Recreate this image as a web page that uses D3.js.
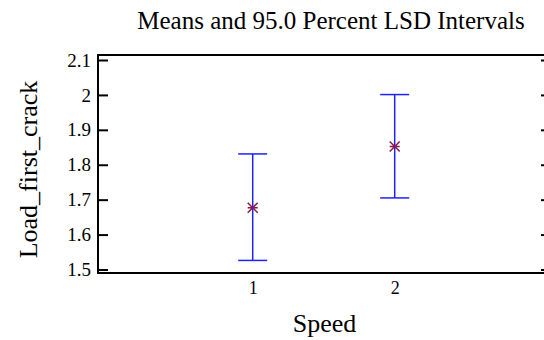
<!DOCTYPE html>
<html><head><meta charset="utf-8">
<script src="https://cdn.jsdelivr.net/npm/d3@7"></script>
<style>body{margin:0;background:#fff}svg{display:block}text{font-family:"Liberation Serif","Times New Roman",serif}</style>
</head><body><svg id="c" width="544" height="340"></svg>
<script>
const categories = ["1", "2"];
const means = [1.677, 1.852];
const lower = [1.526, 1.705];
const upper = [1.831, 2.001];
const yTicks = [1.5, 1.6, 1.7, 1.8, 1.9, 2.0, 2.1];
const yTickLabels = ["1.5", "1.6", "1.7", "1.8", "1.9", "2", "2.1"];

const svg = d3.select("#c");
const L = 98, R = 551, T = 55, B = 273;
const xs = d3.scaleLinear().domain([1, 2]).range([252.7, 394.7]);
const y = d3.scaleLinear().domain([1.5, 2.1]).range([269.5, 60]);

svg.append("text").attr("x", 331).attr("y", 29).attr("text-anchor", "middle")
  .attr("font-size", 25).text("Means and 95.0 Percent LSD Intervals");

svg.append("rect").attr("x", L).attr("y", T).attr("width", R - L).attr("height", B - T)
  .attr("fill", "none").attr("stroke", "#000").attr("stroke-width", 2);

const yAxisL = d3.axisLeft(y).tickValues(yTicks).tickSize(-10).tickPadding(7)
  .tickFormat((d, i) => yTickLabels[i]);
const gy = svg.append("g").attr("transform", `translate(${L},0)`).call(yAxisL);
gy.select(".domain").remove();
gy.selectAll(".tick line").attr("stroke-width", 2);
gy.selectAll("text").attr("font-size", 19).attr("font-family", "Liberation Serif").attr("fill", "#000");

const yAxisR = d3.axisRight(y).tickValues(yTicks).tickSize(-10).tickFormat("");
const gyr = svg.append("g").attr("transform", `translate(${R},0)`).call(yAxisR);
gyr.select(".domain").remove();
gyr.selectAll(".tick line").attr("stroke-width", 2);

const xAxis = d3.axisBottom(xs).tickValues([1, 2]).tickSize(0).tickPadding(8)
  .tickFormat((d, i) => categories[i]);
const gx = svg.append("g").attr("transform", `translate(0,${B})`).call(xAxis);
gx.select(".domain").remove();
gx.selectAll("text").attr("font-size", 18).attr("font-family", "Liberation Serif").attr("fill", "#000");

svg.append("text").attr("x", 324.5).attr("y", 332).attr("text-anchor", "middle")
  .attr("font-size", 26).text("Speed");
svg.append("text").attr("transform", "translate(37,169.5) rotate(-90)").attr("text-anchor", "middle")
  .attr("font-size", 26).text("Load_first_crack");

const g = svg.append("g");
categories.forEach((c, i) => {
  const cx = xs(i + 1);
  g.append("line").attr("x1", cx).attr("x2", cx).attr("y1", y(lower[i])).attr("y2", y(upper[i]))
    .attr("stroke", "#2020ff").attr("stroke-width", 1.5);
  [lower[i], upper[i]].forEach(v => {
    g.append("line").attr("x1", cx - 14.5).attr("x2", cx + 14.5).attr("y1", y(v)).attr("y2", y(v))
      .attr("stroke", "#2020ff").attr("stroke-width", 1.5);
  });
  const my = y(means[i]);
  const s = 5;
  g.append("path").attr("d", `M${cx - s},${my - s}L${cx + s},${my + s}M${cx - s},${my + s}L${cx + s},${my - s}M${cx - s},${my}L${cx + s},${my}`)
    .attr("stroke", "#8b1a4a").attr("stroke-width", 1.5);
});
</script></body></html>
